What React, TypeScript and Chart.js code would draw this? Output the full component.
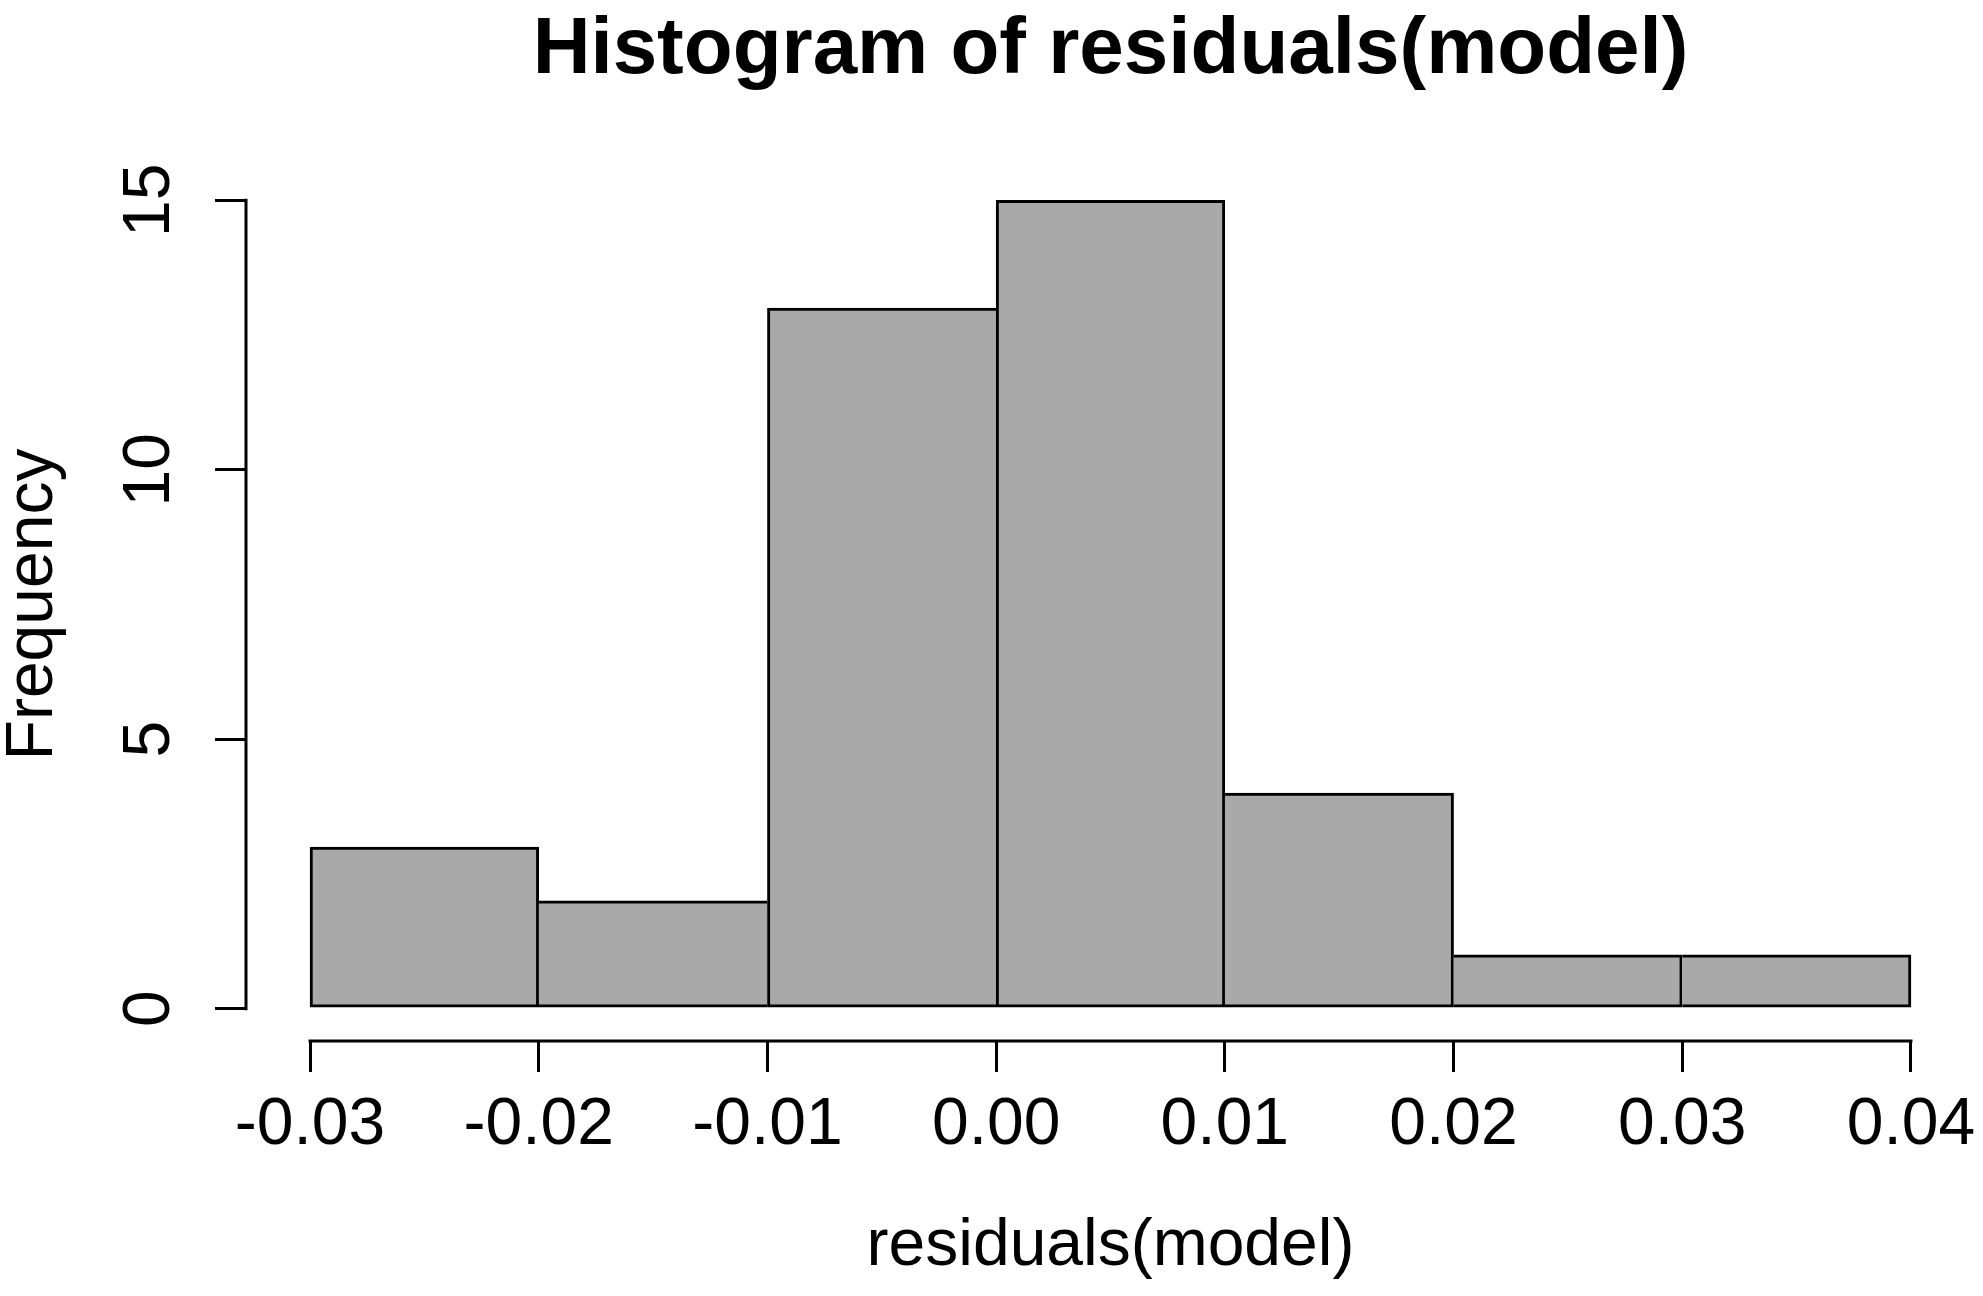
import React, { useEffect, useRef } from 'react';
import Chart from 'chart.js/auto';

// === Data ===
const BIN_STARTS = [-0.03, -0.02, -0.01, 0.0, 0.01, 0.02, 0.03];
const BIN_WIDTH = 0.01;
const COUNTS = [3, 2, 13, 15, 4, 1, 1];
const X_TICKS = [-0.03, -0.02, -0.01, 0.0, 0.01, 0.02, 0.03, 0.04];
const Y_TICKS = [0, 5, 10, 15];

const TITLE = 'Histogram of residuals(model)';
const X_LABEL = 'residuals(model)';
const Y_LABEL = 'Frequency';

const FONT = "'Liberation Sans', Arial, Helvetica, sans-serif";
const W = 1983;
const H = 1296;
const LW = 3;

// R pads each axis range by 4%
const pad = (lo: number, hi: number) => {
  const d = (hi - lo) * 0.04;
  return [lo - d, hi + d];
};

// shared edges between bars drawn once, by the taller bar
const barBorder = (i: number) => {
  const last = COUNTS.length - 1;
  return {
    top: LW,
    bottom: LW,
    left: i === 0 || COUNTS[i - 1] < COUNTS[i] ? LW : 0,
    right: i === last || COUNTS[i + 1] <= COUNTS[i] ? LW : 0,
  };
};

// R-style axis lines: only from first to last tick
const axisLines = {
  id: 'axisLines',
  afterDraw(chart: any) {
    const { ctx, chartArea, scales } = chart;
    const x = scales.x;
    const y = scales.y;
    ctx.save();
    ctx.strokeStyle = '#000';
    ctx.lineWidth = LW;
    ctx.lineCap = 'square';
    ctx.beginPath();
    ctx.moveTo(x.getPixelForValue(X_TICKS[0]), chartArea.bottom);
    ctx.lineTo(x.getPixelForValue(X_TICKS[X_TICKS.length - 1]), chartArea.bottom);
    ctx.moveTo(chartArea.left, y.getPixelForValue(Y_TICKS[0]));
    ctx.lineTo(chartArea.left, y.getPixelForValue(Y_TICKS[Y_TICKS.length - 1]));
    ctx.stroke();
    ctx.restore();
  },
};

export default function App() {
  const canvasRef = useRef<HTMLCanvasElement>(null);

  useEffect(() => {
    if (!canvasRef.current) return;
    const [xMin, xMax] = pad(X_TICKS[0], X_TICKS[X_TICKS.length - 1]);
    const [yMin, yMax] = pad(0, Math.max(...COUNTS));

    const chart = new Chart(canvasRef.current, {
      type: 'bar',
      data: {
        datasets: [
          {
            data: BIN_STARTS.map((s, i) => ({ x: s + BIN_WIDTH / 2, y: COUNTS[i] })),
            backgroundColor: '#a9a9a9',
            borderColor: '#000',
            borderWidth: (c: any) => barBorder(c.dataIndex),
            borderSkipped: false,
            barPercentage: 1,
            categoryPercentage: 1,
          },
        ],
      },
      options: {
        responsive: false,
        animation: false,
        devicePixelRatio: 1,
        layout: { padding: { left: 0, right: 8, top: 0, bottom: 0 } },
        plugins: {
          legend: { display: false },
          tooltip: { enabled: false },
          title: {
            display: true,
            text: TITLE,
            fullSize: false,
            color: '#000',
            font: { family: FONT, size: 80, weight: 'bold', lineHeight: 1 },
            padding: { top: 11, bottom: 77 },
          },
        },
        scales: {
          x: {
            type: 'linear',
            min: xMin,
            max: xMax,
            offset: false,
            afterBuildTicks: (s: any) => {
              s.ticks = X_TICKS.map((v) => ({ value: v }));
            },
            afterFit: (s: any) => {
              s.height = H - 1041;
              s.paddingRight = 0;
              s.paddingLeft = 0;
            },
            border: { display: false },
            grid: {
              offset: false,
              drawOnChartArea: false,
              drawTicks: true,
              tickLength: 31,
              color: '#000',
              lineWidth: LW,
            },
            ticks: {
              color: '#000',
              padding: 14,
              maxRotation: 0,
              autoSkip: false,
              font: { family: FONT, size: 66 },
              callback: (v: any) => Number(v).toFixed(2),
            },
            title: {
              display: true,
              text: X_LABEL,
              color: '#000',
              font: { family: FONT, size: 66, lineHeight: 1.2 },
              padding: { top: 0, bottom: 10 },
            },
          },
          y: {
            type: 'linear',
            min: yMin,
            max: yMax,
            afterBuildTicks: (s: any) => {
              s.ticks = Y_TICKS.map((v) => ({ value: v }));
            },
            afterFit: (s: any) => {
              s.width = 246;
            },
            border: { display: false },
            grid: {
              drawOnChartArea: false,
              drawTicks: true,
              tickLength: 31,
              color: '#000',
              lineWidth: LW,
            },
            ticks: {
              color: '#000',
              padding: 27,
              minRotation: 90,
              maxRotation: 90,
              crossAlign: 'center',
              font: { family: FONT, size: 66 },
              callback: (v: any) => String(v),
            },
            title: {
              display: true,
              text: Y_LABEL,
              color: '#000',
              font: { family: FONT, size: 66, lineHeight: 1 },
              padding: { top: 1, bottom: 0 },
            },
          },
        },
      },
      plugins: [axisLines],
    } as any);

    return () => chart.destroy();
  }, []);

  return (
    <div style={{ position: 'absolute', left: 0, top: 0, width: W, height: H, background: '#fff' }}>
      <canvas ref={canvasRef} width={W} height={H} />
    </div>
  );
}
